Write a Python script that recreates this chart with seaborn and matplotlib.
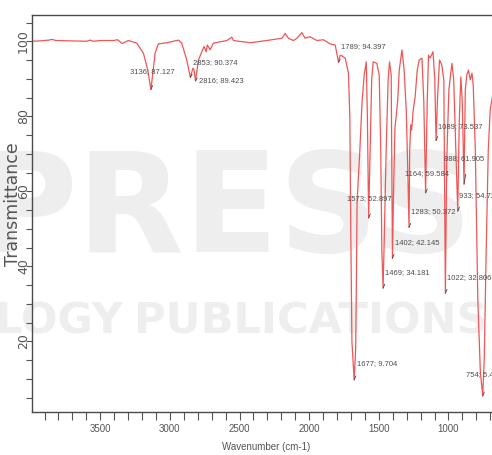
import matplotlib
matplotlib.use("Agg")
import matplotlib.pyplot as plt
from matplotlib.ticker import MultipleLocator, FixedLocator
import seaborn as sns
import pandas as pd

# ---- FTIR spectrum (wavenumber in cm-1, % transmittance) ----
WAVENUMBER = [
    3990, 3930, 3870, 3845, 3820, 3700, 3600, 3570, 3550, 3501,
    3406, 3375, 3343, 3298, 3238, 3190, 3160, 3136, 3118, 3106,
    3083, 3022, 2939, 2915, 2879, 2853, 2835, 2827, 2816, 2795,
    2771, 2754, 2740, 2731, 2711, 2688, 2591, 2555, 2544, 2424,
    2304, 2196, 2172, 2149, 2113, 2088, 2052, 2029, 1993, 1945,
    1897, 1849, 1813, 1797, 1789, 1777, 1765, 1741, 1718, 1708,
    1700, 1693, 1677, 1666, 1661, 1656, 1636, 1620, 1605, 1590,
    1582, 1573, 1562, 1551, 1540, 1514, 1497, 1486, 1478, 1469,
    1461, 1447, 1433, 1423, 1411, 1402, 1395, 1384, 1375, 1364,
    1353, 1334, 1318, 1303, 1292, 1283, 1278, 1271, 1264, 1253,
    1239, 1224, 1210, 1190, 1177, 1164, 1152, 1143, 1131, 1111,
    1098, 1089, 1079, 1064, 1048, 1033, 1022, 1012, 997, 975,
    962, 947, 933, 922, 911, 901, 888, 879, 868, 856,
    843, 831, 822, 807, 789, 771, 754, 743, 729, 714,
    700, 682,
]
TRANSMITTANCE = [
    100.0, 100.1, 100.3, 100.5, 100.2, 100.1, 100.0, 100.3, 100.0, 100.2,
    100.2, 100.4, 99.4, 100.2, 99.5, 96.8, 92.5, 87.127, 93.0, 96.8,
    99.3, 99.6, 100.3, 99.5, 95.0, 90.374, 92.8, 92.4, 89.423, 95.0,
    97.2, 98.6, 97.2, 99.0, 97.7, 99.5, 100.2, 101.1, 100.2, 99.6,
    100.2, 100.8, 102.1, 100.8, 100.2, 100.8, 102.3, 100.8, 101.2, 100.2,
    100.4, 99.3, 99.0, 95.9, 94.397, 96.3, 96.1, 95.5, 91.5, 80.0,
    45.0, 20.0, 9.704, 18.0, 35.0, 57.0, 71.0, 84.0, 91.0, 94.5,
    80.0, 52.897, 71.0, 89.7, 94.5, 94.1, 91.0, 71.0, 44.0, 34.181,
    47.0, 71.0, 89.7, 94.5, 91.0, 42.145, 57.7, 77.0, 80.0, 84.3,
    92.3, 97.7, 92.3, 81.7, 65.7, 50.372, 71.0, 77.7, 76.3, 81.7,
    85.2, 92.3, 95.0, 95.5, 84.0, 59.584, 84.3, 96.3, 95.5, 97.2,
    90.0, 73.537, 84.3, 95.0, 93.7, 89.7, 32.806, 68.4, 87.0, 94.1,
    89.7, 71.0, 54.72, 79.0, 90.5, 84.3, 61.905, 87.0, 91.0, 92.3,
    89.7, 91.5, 88.3, 71.0, 31.0, 12.0, 5.42, 15.0, 44.0, 71.0,
    81.7, 85.7,
]

# labelled band positions and their transmittance
PEAK_WN = [3136, 2853, 2816, 1789, 1677, 1573, 1469, 1402, 1283, 1164,
           1089, 1022, 933, 888, 754]
PEAK_T = [87.127, 90.374, 89.423, 94.397, 9.704, 52.897, 34.181, 42.145,
          50.372, 59.584, 73.537, 32.806, 54.72, 61.905, 5.42]

# label placement: (dx, dy) of the text's left/middle point from the band tip, pixels
LABEL_OFFSETS = [(-21, 18), (3, 15), (3, 0), (2, 16), (3, 16), (-22, 19),
                 (2, 16), (3, 16), (2, 16), (-21, 19), (2, 14), (2, 16),
                 (1, 16), (-20, 26), (-17, 21)]
LEADER_LEN = [4, 3, 3, 3, 4, 4, 4, 4, 4, 4, 4, 4, 4, 10, 4]

df = pd.DataFrame({"wavenumber": WAVENUMBER, "transmittance": TRANSMITTANCE})

sns.set_theme(style="white")
plt.rcParams["font.family"] = ["DejaVu Sans"]
NARROW = ["Liberation Sans", "DejaVu Sans"]

W, H = 492, 455
fig = plt.figure(figsize=(W / 100, H / 100), dpi=100)
fig.patch.set_facecolor("white")

# faint publisher watermark behind the plot
wm = "#eeeeee"
fig.text(-25 / W, 1 - 252 / H, "PRESS", fontsize=100, fontweight="bold",
         color=wm, ha="left", va="baseline", zorder=-1)
fig.text(124 / W, 1 - 333 / H, "TECHNOLOGY", fontsize=31, fontweight="bold",
         color=wm, ha="right", va="baseline", zorder=-1)
fig.text(134 / W, 1 - 333 / H, "PUBLICATIONS", fontsize=31, fontweight="bold",
         color=wm, ha="left", va="baseline", zorder=-1)

ax = fig.add_axes([32 / W, 43 / H, 500 / W, 397 / H])
ax.set_facecolor("none")

sns.lineplot(data=df, x="wavenumber", y="transmittance", sort=False,
             estimator=None, color="#ef5656", linewidth=0.9, ax=ax)

ax.set_xlim(3990, 400)
ax.set_ylim(1.15, 107)

ax.xaxis.set_major_locator(FixedLocator([3500, 3000, 2500, 2000, 1500, 1000, 500]))
ax.xaxis.set_minor_locator(MultipleLocator(100))
ax.yaxis.set_major_locator(MultipleLocator(20))
ax.yaxis.set_minor_locator(MultipleLocator(5))

ax.tick_params(axis="x", which="both", direction="out", length=6, width=0.8,
               color="#555555", pad=3, bottom=True)
ax.tick_params(axis="y", which="both", direction="out", length=4, width=0.8,
               color="#555555", pad=-2.5, left=True)
ax.tick_params(axis="x", which="major", labelsize=7, labelcolor="#555555")
ax.tick_params(axis="y", which="major", labelsize=9, labelcolor="#555555")
for lab in ax.get_xticklabels():
    lab.set_family(NARROW)
for lab in ax.get_yticklabels():
    lab.set_rotation(90)
    lab.set_va("center")
    lab.set_ha("right")

for side in ("left", "bottom", "top", "right"):
    ax.spines[side].set_color("#4a4a4a")
    ax.spines[side].set_linewidth(1.0)

ax.set_xlabel("Wavenumber (cm-1)", fontsize=7, color="#555555", family=NARROW)
ax.set_ylabel("Transmittance", fontsize=12.5, color="#555555")
ax.xaxis.set_label_coords((266.5 - 32) / 500, -(447 - 412) / 397)
ax.xaxis.label.set_va("center")
ax.yaxis.set_label_coords((13 - 32) / 500, (412 - 204) / 397)
ax.yaxis.label.set_va("center")

px2pt = 0.72
for wn, t, (dx, dy), ll in zip(PEAK_WN, PEAK_T, LABEL_OFFSETS, LEADER_LEN):
    ax.annotate("", xy=(wn, t), xytext=(1.2, ll * px2pt),
                textcoords="offset points",
                arrowprops=dict(arrowstyle="-", color="#444444", lw=0.6,
                                shrinkA=0, shrinkB=0))
    ax.annotate(f"{wn}; {t}", xy=(wn, t), xytext=(dx * px2pt, dy * px2pt),
                textcoords="offset points", ha="left", va="center",
                fontsize=5.5, color="#4d4d4d", family=NARROW,
                annotation_clip=False)

fig.savefig("out.png", dpi=100, facecolor="white")
